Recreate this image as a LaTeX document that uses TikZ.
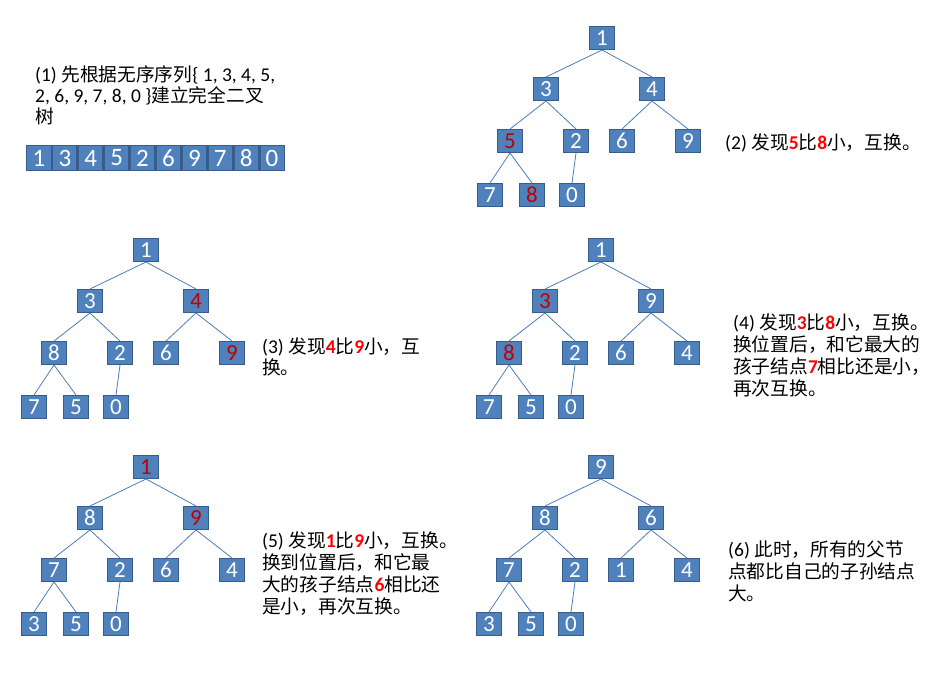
\documentclass[tikz,border=0pt]{standalone}
\usepackage{fontspec}
\setmainfont{Carlito}
\newfontfamily\cjk[Scale=0.96]{Noto Sans CJK SC}
\definecolor{nfill}{HTML}{4F81BD}
\definecolor{nborder}{HTML}{385D8A}
\definecolor{nedge}{HTML}{4A7EBB}
\definecolor{nred}{HTML}{C00000}
\definecolor{tred}{HTML}{FF0000}
\newcommand\zh[1]{{\cjk #1}}
\newcommand\rb[1]{\textcolor{tred}{\textbf{#1}}}
\newcommand\rn[1]{\textcolor{nred}{#1}}
\tikzset{
  hnode/.style={draw=nborder, line width=1.4pt, fill=nfill, text=white,
    minimum width=24.6pt, minimum height=22.6pt, inner sep=0pt,
    font=\fontsize{23}{23}\selectfont},
  anode/.style={hnode, minimum width=24.5pt, minimum height=24.6pt,
    font=\fontsize{25}{25}\selectfont},
  hedge/.style={draw=nedge, line width=0.8pt},
  captext/.style={anchor=base west, align=left, inner sep=0pt, text=black,
    font=\fontsize{19.5}{21.7}\selectfont},
}
% #1 prefix, #2 x, #3 y, #4 root label, #5 left child label
\newcommand\heap[5]{%
  \begin{scope}[shift={(#2,#3)}]
  \node[hnode] (#1r) at (0,0) {#4};
  \node[hnode] (#1a) at (-56,51) {#5};
  \heapB{#1}}
% #1 prefix, #2..#9 labels b..i
\newcommand\heapB[9]{%
  \node[hnode] (#1b) at (50,51) {#2};
  \node[hnode] (#1c) at (-92,103) {#3};
  \node[hnode] (#1d) at (-26,103) {#4};
  \node[hnode] (#1e) at (20,103) {#5};
  \node[hnode] (#1f) at (86,103) {#6};
  \node[hnode] (#1g) at (-112,157) {#7};
  \node[hnode] (#1h) at (-70,157) {#8};
  \node[hnode] (#1i) at (-30,157) {#9};
  \draw[hedge] (#1r.south) -- (#1a.north);
  \draw[hedge] (#1r.south) -- (#1b.north);
  \draw[hedge] (#1a.south) -- (#1c.north);
  \draw[hedge] (#1a.south) -- (#1d.north);
  \draw[hedge] (#1b.south) -- (#1e.north);
  \draw[hedge] (#1b.south) -- (#1f.north);
  \draw[hedge] (#1c.south) -- (#1g.north);
  \draw[hedge] (#1c.south) -- (#1h.north);
  \draw[hedge] (#1d.south) -- (#1i.north);
  \end{scope}}
\begin{document}
\begin{tikzpicture}[x=1pt,y=-1pt]
\path[use as bounding box, fill=white] (0,0) rectangle (935,682);

% (1) caption and array
\node[captext, font=\fontsize{19.5}{21}\selectfont] (c1) at (35,124)
  {(1) \zh{先根据无序序列}\{ 1, 3, 4, 5,\\2, 6, 9, 7, 8, 0 \}\zh{建立完全二叉}\\\zh{树}};
\foreach \v [count=\k] in {1,3,4,5,2,6,9,7,8,0}
  \node[anode] (arr\k) at ({38.95+25.9*(\k-1)},158) {\v};

% (2)
\heap{b}{602}{38}{1}{3}{4}{\rn{5}}{2}{6}{9}{7}{\rn{8}}{0}
\node[captext] (c2) at (725,150) {(2) \zh{发现}\rb{5}\zh{比}\rb{8}\zh{小，互换。}};

% (3)
\heap{c}{146}{250}{1}{3}{\rn{4}}{8}{2}{6}{\rn{9}}{7}{5}{0}
\node[captext, font=\fontsize{19.5}{20.5}\selectfont] (c3) at (262,374)
  {(3) \zh{发现}\rb{4}\zh{比}\rb{9}\zh{小，互}\\\zh{换。}};

% (4)
\heap{d}{601}{250}{1}{\rn{3}}{9}{\rn{8}}{2}{6}{4}{7}{5}{0}
\node[captext] (c4) at (733,395)
  {(4) \zh{发现}\rb{3}\zh{比}\rb{8}\zh{小，互换。}\\
   \zh{换位置后，和它最大的}\\
   \zh{孩子结点}\rb{7}\zh{相比还是小，}\\
   \zh{再次互换。}};

% (5)
\heap{e}{146}{467}{\rn{1}}{8}{\rn{9}}{7}{2}{6}{4}{3}{5}{0}
\node[captext, font=\fontsize{19.5}{22}\selectfont] (c5) at (262,613)
  {(5) \zh{发现}\rb{1}\zh{比}\rb{9}\zh{小，互换。}\\
   \zh{换到位置后，和它最}\\
   \zh{大的孩子结点}\rb{6}\zh{相比还}\\
   \zh{是小，再次互换。}};

% (6)
\heap{f}{601}{467}{9}{8}{6}{7}{2}{1}{4}{3}{5}{0}
\node[captext, font=\fontsize{19.5}{22}\selectfont] (c6) at (728,600)
  {(6) \zh{此时，所有的父节}\\
   \zh{点都比自己的子孙结点}\\
   \zh{大。}};
\end{tikzpicture}
\end{document}
